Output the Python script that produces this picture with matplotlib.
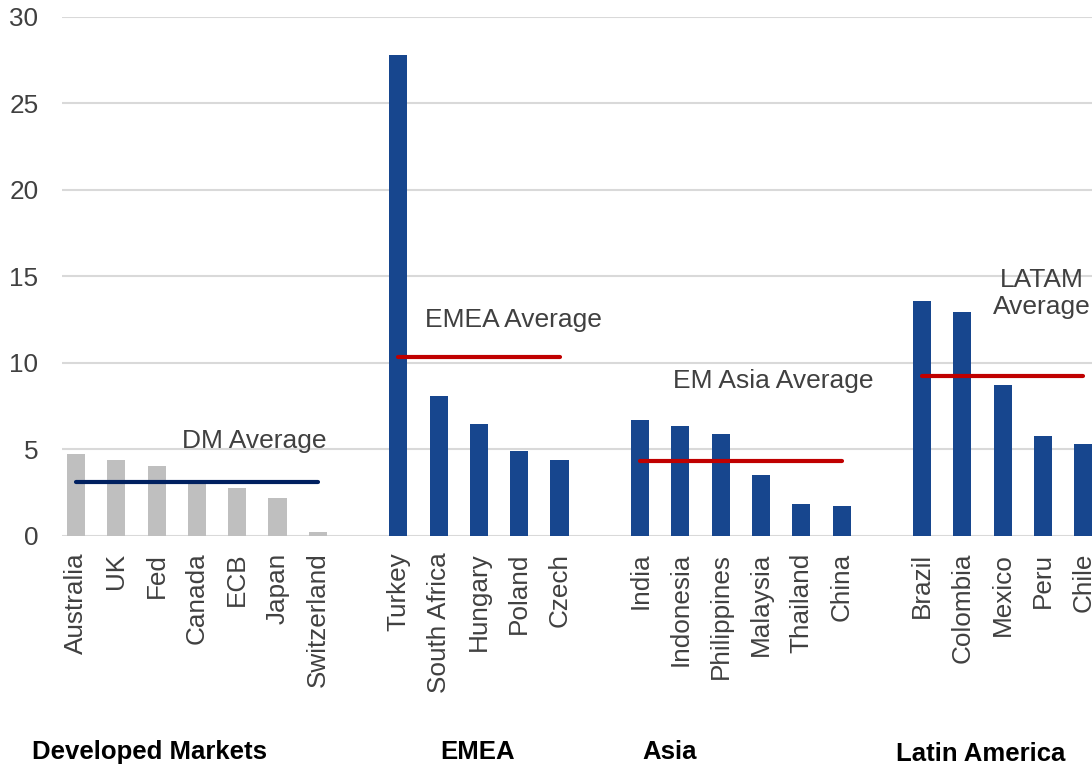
import matplotlib.pyplot as plt
import numpy as np

plt.rcParams['font.family'] = ['Liberation Sans', 'DejaVu Sans']

# data (policy rate, %)
dm_names = ['Australia', 'UK', 'Fed', 'Canada', 'ECB', 'Japan', 'Switzerland']
dm_vals = [4.74, 4.41, 4.04, 3.0, 2.75, 2.21, 0.21]
emea_names = ['Turkey', 'South Africa', 'Hungary', 'Poland', 'Czech']
emea_vals = [27.8, 8.09, 6.47, 4.93, 4.37]
asia_names = ['India', 'Indonesia', 'Philippines', 'Malaysia', 'Thailand', 'China']
asia_vals = [6.68, 6.35, 5.87, 3.52, 1.83, 1.75]
latam_names = ['Brazil', 'Colombia', 'Mexico', 'Peru', 'Chile']
latam_vals = [13.6, 12.92, 8.7, 5.78, 5.3]

dm_avg = 3.1
emea_avg = 10.34
asia_avg = 4.35
latam_avg = 9.26

group_titles = ['Developed Markets', 'EMEA', 'Asia', 'Latin America']

grey = '#BFBFBF'
blue = '#17468E'
navy = '#002060'
red = '#C00000'
txt = '#404040'

fig = plt.figure(figsize=(10.92, 7.67), dpi=100)
ax = fig.add_axes([62 / 1092, 0.3012, 0.9537, 0.6771])

# categories laid out with one empty slot between groups
groups = [(dm_names, dm_vals, grey), (emea_names, emea_vals, blue),
          (asia_names, asia_vals, blue), (latam_names, latam_vals, blue)]
avgs = [(dm_avg, navy), (emea_avg, red), (asia_avg, red), (latam_avg, red)]

pos = 0
ticks, labels, spans = [], [], []
for names, vals, col in groups:
    x = np.arange(pos, pos + len(names))
    ax.bar(x, vals, width=0.45, color=col, zorder=2)
    ticks += list(x)
    labels += names
    spans.append((x[0], x[-1]))
    pos += len(names) + 1

for (x0, x1), (a, col) in zip(spans, avgs):
    ax.plot([x0, x1], [a, a], color=col, lw=3, solid_capstyle='round', zorder=3)

fs = 19
ax.text(4.42, 5.5, 'DM Average', ha='center', va='center', fontsize=fs, color=txt)
ax.text(10.85, 12.5, 'EMEA Average', ha='center', va='center', fontsize=fs, color=txt)
ax.text(17.3, 8.95, 'EM Asia Average', ha='center', va='center', fontsize=fs, color=txt)
ax.text(23.98, 14.0, 'LATAM\nAverage', ha='center', va='center', fontsize=fs,
        color=txt, linespacing=1.15)

ax.set_xticks(ticks)
ax.set_xticklabels(labels, rotation=90, fontsize=18.8, color=txt)
ax.set_yticks(np.arange(0, 31, 5))
ax.tick_params(axis='y', labelsize=18.8, labelcolor=txt, length=0, pad=17)
ax.tick_params(axis='x', length=0, pad=12)
ax.set_xlim(-0.35, 25.5)
ax.set_ylim(0, 30)

ax.grid(axis='y', color='#D9D9D9', lw=1.5, zorder=0)
ax.set_axisbelow(True)
for s in ax.spines.values():
    s.set_visible(False)

title_x = [149, 478, 670, 981]
title_y = [752, 752, 752, 754]
for t, xx, yy in zip(group_titles, title_x, title_y):
    fig.text(xx / 1092, 1 - yy / 767, t, ha='center', va='center', fontsize=18.5,
             fontweight='bold', color='black')

fig.savefig('out.png', dpi=100)
